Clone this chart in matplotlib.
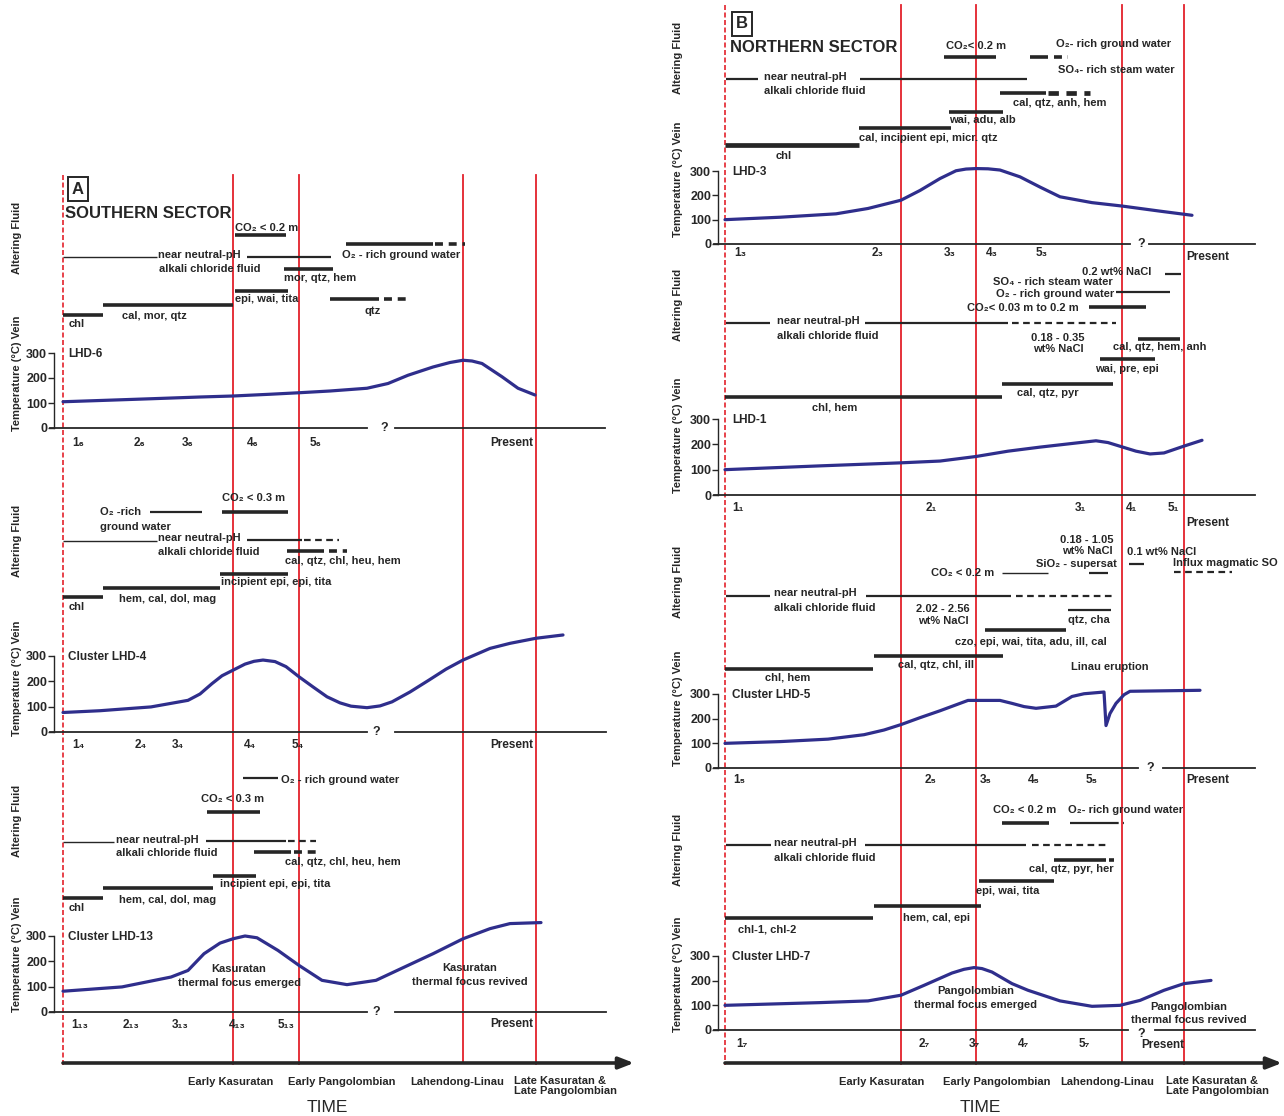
import matplotlib
matplotlib.use('Agg')
import matplotlib.pyplot as plt

plt.rcParams['font.family'] = ['Liberation Sans', 'DejaVu Sans']

W, H = 1284, 1116
RED = '#e3212b'
BLUE = '#2f2e8c'
INK = '#262626'
FS = 8
FW = 'bold'

# ---------------- common time framework (positions along the time axis) ----------
A_start = 63
A_epochs = [233, 299, 463, 536]
B_start = 725
B_epochs = [901, 976, 1122, 1184]
epoch_names = ['Early Kasuratan', 'Early Pangolombian', 'Lahendong-Linau',
               'Late Kasuratan &\nLate Pangolombian']

# ---------------- temperature curves: (time position, temperature degC) ----------
A6_t = [63, 100, 151, 200, 233, 270, 299, 330, 367, 388, 408, 433, 450, 463, 472, 482, 502, 518, 535]
A6_T = [105, 110, 117, 124, 128, 135, 141, 148, 159, 178, 211, 244, 262, 271, 268, 258, 205, 159, 132]

A4_t = [63, 100, 151, 188, 200, 212, 222, 233, 245, 254, 263, 275, 286, 299, 313, 327, 340, 351, 367,
        380, 392, 410, 429, 446, 463, 490, 510, 536, 563]
A4_T = [77, 84, 99, 125, 150, 191, 222, 244, 268, 279, 284, 278, 258, 218, 178, 139, 115, 102, 96,
        103, 119, 158, 205, 248, 284, 330, 350, 370, 383]

A13_t = [63, 122, 171, 188, 204, 220, 233, 245, 257, 278, 299, 322, 347, 376, 408, 433, 463,
         490, 510, 541]
A13_T = [82, 99, 138, 164, 230, 272, 289, 300, 293, 243, 184, 125, 108, 125, 184, 230, 289,
         329, 349, 353]

B3_t = [725, 780, 836, 868, 901, 920, 940, 956, 966, 976, 988, 1000, 1020, 1040, 1060, 1092, 1122, 1160, 1192]
B3_T = [100, 110, 124, 146, 180, 220, 269, 301, 308, 310, 309, 304, 276, 234, 194, 170, 156, 135, 118]

B1_t = [725, 820, 901, 940, 976, 1008, 1040, 1080, 1096, 1108, 1122, 1136, 1150, 1164, 1184, 1202]
B1_T = [100, 115, 127, 134, 152, 173, 189, 207, 214, 207, 190, 173, 162, 166, 193, 216]

B5_t = [725, 780, 828, 864, 884, 901, 920, 940, 968, 1000, 1012, 1024, 1036, 1056, 1072, 1084,
        1104, 1106, 1110, 1116, 1124, 1130, 1200]
B5_T = [100, 107, 117, 135, 154, 176, 204, 232, 274, 274, 262, 249, 242, 251, 290, 301,
        308, 172, 221, 262, 297, 311, 315]

B7_t = [725, 820, 868, 901, 924, 952, 964, 974, 982, 992, 1012, 1028, 1060, 1092, 1120, 1140, 1164, 1184, 1211]
B7_T = [100, 111, 118, 141, 181, 231, 246, 253, 249, 235, 188, 161, 118, 96, 100, 120, 161, 188, 201]

# ---------------- alteration / vein bars: (start, end, row, kind) ----------------
A6_bars = [(235, 286, 235, 'thick'), (346, 433, 244, 'thick'), (435, 465, 244, 'thickdash'),
           (63, 157, 257, 'thin'), (247, 331, 257, 'mid'), (284, 333, 269, 'thick'),
           (235, 288, 291, 'thick'), (330, 379, 299, 'thick'), (384, 410, 299, 'thickdash'),
           (103, 233, 305, 'thick'), (63, 103, 315, 'thick')]
A6_text = [(235, 228, 'CO₂ < 0.2 m', 'left'), (342, 255, 'O₂ - rich ground water', 'left'),
           (158, 255, 'near neutral-pH', 'left'), (159, 269, 'alkali chloride fluid', 'left'),
           (284, 278, 'mor, qtz, hem', 'left'), (235, 299, 'epi, wai, tita', 'left'),
           (373, 311, 'qtz', 'center'), (122, 316, 'cal, mor, qtz', 'left'), (69, 324, 'chl', 'left')]

A4_bars = [(222, 288, 512, 'thick'), (150, 202, 512, 'mid'), (63, 157, 541, 'thin'),
           (247, 302, 540, 'mid'), (304, 339, 540, 'middash'), (287, 324, 551, 'thick'),
           (329, 347, 551, 'thickdash'), (220, 288, 574, 'thick'), (103, 220, 588, 'thick'),
           (63, 103, 597, 'thick')]
A4_text = [(222, 498, 'CO₂ < 0.3 m', 'left'), (100, 512, 'O₂ -rich', 'left'),
           (100, 527, 'ground water', 'left'), (158, 538, 'near neutral-pH', 'left'),
           (158, 552, 'alkali chloride fluid', 'left'), (285, 561, 'cal, qtz, chl, heu, hem', 'left'),
           (221, 582, 'incipient epi, epi, tita', 'left'), (119, 599, 'hem, cal, dol, mag', 'left'),
           (69, 607, 'chl', 'left')]

A13_bars = [(243, 278, 778, 'mid'), (207, 260, 812, 'thick'), (63, 114, 842, 'thin'),
            (206, 286, 841, 'mid'), (288, 316, 841, 'middash'), (254, 291, 852, 'thick'),
            (294, 316, 852, 'thickdash'), (213, 256, 876, 'thick'), (103, 213, 888, 'thick'),
            (63, 103, 898, 'thick')]
A13_text = [(281, 780, 'O₂ - rich ground water', 'left'), (201, 799, 'CO₂ < 0.3 m', 'left'),
            (116, 840, 'near neutral-pH', 'left'), (116, 853, 'alkali chloride fluid', 'left'),
            (285, 862, 'cal, qtz, chl, heu, hem', 'left'), (220, 884, 'incipient epi, epi, tita', 'left'),
            (119, 900, 'hem, cal, dol, mag', 'left'), (69, 908, 'chl', 'left'),
            (239, 969, 'Kasuratan', 'center'), (239, 983, 'thermal focus emerged', 'center'),
            (470, 968, 'Kasuratan', 'center'), (470, 982, 'thermal focus revived', 'center')]

B3_bars = [(944, 996, 57, 'thick'), (1030, 1048, 57, 'thick'), (1054, 1068, 57, 'thickdash'),
           (726, 758, 79, 'mid'), (860, 1027, 79, 'mid'), (1000, 1046, 93, 'thick'),
           (1048, 1090, 93, 'heavydash'), (949, 1003, 112, 'thick'), (859, 951, 128, 'thick'),
           (725, 859, 145, 'heavy')]
B3_text = [(946, 46, 'CO₂< 0.2 m', 'left'), (1056, 44, 'O₂- rich ground water', 'left'),
           (1058, 70, 'SO₄- rich steam water', 'left'), (764, 77, 'near neutral-pH', 'left'),
           (764, 91, 'alkali chloride fluid', 'left'), (1013, 103, 'cal, qtz, anh, hem', 'left'),
           (949, 120, 'wai, adu, alb', 'left'), (859, 138, 'cal, incipient epi, micr. qtz', 'left'),
           (784, 156, 'chl', 'center')]

B1_bars = [(1165, 1181, 274, 'mid'), (1116, 1170, 292, 'mid'), (1089, 1146, 307, 'thick'),
           (726, 770, 323, 'mid'), (865, 1008, 323, 'mid'), (1012, 1116, 323, 'middash'),
           (1138, 1180, 339, 'thick'), (1100, 1155, 359, 'thick'), (1002, 1113, 384, 'thick'),
           (725, 1002, 397, 'thick')]
B1_text = [(1082, 272, '0.2 wt% NaCl', 'left'), (993, 282, 'SO₄ - rich steam water', 'left'),
           (996, 294, 'O₂ - rich ground water', 'left'), (967, 308, 'CO₂< 0.03 m to 0.2 m', 'left'),
           (777, 321, 'near neutral-pH', 'left'), (777, 336, 'alkali chloride fluid', 'left'),
           (1058, 338, '0.18 - 0.35', 'center'), (1058, 349, 'wt% NaCl', 'center'),
           (1113, 347, 'cal, qtz, hem, anh', 'left'), (1095, 369, 'wai, pre, epi', 'left'),
           (1017, 393, 'cal, qtz, pyr', 'left'), (812, 407, 'chl, hem', 'left')]

B5_bars = [(1129, 1144, 564, 'mid'), (1089, 1108, 573, 'mid'), (1002, 1048, 573, 'thin'),
           (1174, 1232, 572, 'middash'), (726, 770, 596, 'mid'), (866, 1011, 596, 'mid'),
           (1016, 1116, 596, 'middash'), (1068, 1111, 610, 'mid'), (985, 1066, 630, 'thick'),
           (874, 1003, 656, 'thick'), (725, 873, 669, 'thick')]
B5_text = [(1087, 540, '0.18 - 1.05', 'center'), (1087, 551, 'wt% NaCl', 'center'),
           (1162, 552, '0.1 wt% NaCl', 'center'), (1036, 564, 'SiO₂ - supersat', 'left'),
           (931, 573, 'CO₂ < 0.2 m', 'left'), (1173, 563, 'Influx magmatic SO', 'left'),
           (774, 593, 'near neutral-pH', 'left'), (774, 608, 'alkali chloride fluid', 'left'),
           (943, 609, '2.02 - 2.56', 'center'), (943, 621, 'wt% NaCl', 'center'),
           (1068, 620, 'qtz, cha', 'left'), (955, 642, 'czo, epi, wai, tita, adu, ill, cal', 'left'),
           (898, 665, 'cal, qtz, chl, ill', 'left'), (1071, 667, 'Linau eruption', 'left'),
           (765, 678, 'chl, hem', 'left')]

B7_bars = [(1002, 1049, 823, 'thick'), (1070, 1112, 823, 'mid'), (1112, 1124, 823, 'middash'),
           (726, 771, 845, 'mid'), (865, 1026, 845, 'mid'), (1032, 1106, 845, 'middash'),
           (1054, 1106, 860, 'thick'), (1109, 1114, 860, 'thick'), (979, 1054, 881, 'thick'),
           (874, 981, 906, 'thick'), (725, 873, 918, 'thick')]
B7_text = [(993, 810, 'CO₂ < 0.2 m', 'left'), (1068, 810, 'O₂- rich ground water', 'left'),
           (774, 843, 'near neutral-pH', 'left'), (774, 858, 'alkali chloride fluid', 'left'),
           (1029, 869, 'cal, qtz, pyr, her', 'left'), (976, 891, 'epi, wai, tita', 'left'),
           (903, 918, 'hem, cal, epi', 'left'), (738, 930, 'chl-1, chl-2', 'left'),
           (976, 991, 'Pangolombian', 'center'), (975, 1005, 'thermal focus emerged', 'center'),
           (1189, 1007, 'Pangolombian', 'center'), (1189, 1020, 'thermal focus revived', 'center')]

# ---------------- stage labels ----------------
A6_stages = ['1₆', '2₆', '3₆', '4₆', '5₆'];      A6_stage_t = [78, 139, 188, 253, 316]
A4_stages = ['1₄', '2₄', '3₄', '4₄', '5₄'];      A4_stage_t = [78, 141, 178, 250, 298]
A13_stages = ['1₁₃', '2₁₃', '3₁₃', '4₁₃', '5₁₃']; A13_stage_t = [80, 131, 180, 237, 286]
B3_stages = ['1₃', '2₃', '3₃', '4₃', '5₃'];      B3_stage_t = [740, 878, 950, 992, 1042]
B1_stages = ['1₁', '2₁', '3₁', '4₁', '5₁'];      B1_stage_t = [738, 931, 1080, 1132, 1173]
B5_stages = ['1₅', '2₅', '3₅', '4₅', '5₅'];      B5_stage_t = [739, 931, 986, 1034, 1092]
B7_stages = ['1₇', '2₇', '3₇', '4₇', '5₇'];      B7_stage_t = [742, 924, 974, 1024, 1084]

# ---------------- figure ----------------
fig = plt.figure(figsize=(W / 100, H / 100), dpi=100)
ax = fig.add_axes([0, 0, 1, 1])
ax.set_xlim(0, W)
ax.set_ylim(H, 0)
ax.axis('off')

STYLE = {
    'thin': dict(lw=1.0, ls='-'),
    'mid': dict(lw=1.6, ls='-'),
    'middash': dict(lw=1.6, ls=(0, (3, 2))),
    'thick': dict(lw=2.6, ls='-'),
    'thickdash': dict(lw=2.6, ls=(0, (2.2, 1.6))),
    'heavy': dict(lw=3.4, ls='-'),
    'heavydash': dict(lw=3.4, ls=(0, (2.2, 1.6))),
}


def txt(x, y, s, ha='left', **kw):
    kw.setdefault('fontsize', FS)
    kw.setdefault('color', INK)
    kw.setdefault('fontweight', FW)
    ax.text(x, y, s, ha=ha, va='center', **kw)


def draw_bars(bars):
    for t0, t1, row, kind in bars:
        st = STYLE[kind]
        ax.plot([t0, t1], [row, row], color=INK, lw=st['lw'], ls=st['ls'],
                solid_capstyle='butt', dash_capstyle='butt')


def draw_texts(items):
    for x, y, s, ha in items:
        txt(x, y, s, ha)


def temp_panel(spine_x, x_right, y0, y300, t, T, name, stages, stage_t, stage_y,
               base_segments, qmark, present):
    a = fig.add_axes([spine_x / W, 1 - y0 / H, (x_right - spine_x) / W, (y0 - y300) / H])
    a.set_xlim(spine_x, x_right)
    a.set_ylim(0, 300)
    a.patch.set_visible(False)
    for s in ['top', 'right', 'bottom']:
        a.spines[s].set_visible(False)
    a.spines['left'].set_linewidth(1.0)
    a.spines['left'].set_color(INK)
    a.set_xticks([])
    a.set_yticks([0, 100, 200, 300])
    a.tick_params(axis='y', length=4, width=1, pad=1, labelsize=9, colors=INK)
    for lab in a.get_yticklabels():
        lab.set_fontweight('bold')
    a.plot(t, T, color=BLUE, lw=2.3, solid_joinstyle='round', solid_capstyle='round',
           clip_on=False)
    # baseline (time line)
    for x0, x1 in base_segments:
        ax.plot([x0, x1], [y0, y0], color=INK, lw=1.3)
    if qmark is not None:
        txt(qmark[0], y0 + qmark[1], '?', 'center', fontsize=9)
    for s, x in zip(stages, stage_t):
        txt(x, stage_y, s, 'center', fontsize=8.5)
    txt(present[0], present[1], 'Present', 'center', fontsize=8.5)
    txt(spine_x + 14, y300 + 1, name, 'left', fontsize=8.5)


# red epoch lines
ax.plot([A_start, A_start], [175, 1065], color=RED, lw=1.2, ls=(0, (3, 1.5)))
for x in A_epochs:
    ax.plot([x, x], [175, 1062 if x == A_epochs[2] else 1064], color=RED, lw=1.3)
ax.plot([B_start, B_start], [5, 1065], color=RED, lw=1.2, ls=(0, (3, 1.5)))
for x in B_epochs:
    ax.plot([x, x], [5, 1062 if x == B_epochs[2] else 1064], color=RED, lw=1.3)

# panel letters and titles
ax.text(78, 189, 'A', ha='center', va='center', fontsize=12, fontweight='bold', color=INK,
        bbox=dict(boxstyle='square,pad=0.25', fc='white', ec=INK, lw=1.4))
ax.text(742, 24, 'B', ha='center', va='center', fontsize=12, fontweight='bold', color=INK,
        bbox=dict(boxstyle='square,pad=0.25', fc='white', ec=INK, lw=1.4))
txt(65, 213, 'SOUTHERN SECTOR', fontsize=12)
txt(730, 48, 'NORTHERN SECTOR', fontsize=12)

# side labels
for y in [238, 541, 821]:
    ax.text(17, y, 'Altering Fluid', rotation=90, ha='center', va='center', fontsize=FS,
            fontweight=FW, color=INK)
for y in [373, 678, 954]:
    ax.text(17, y, 'Temperature (°C) Vein', rotation=90, ha='center', va='center', fontsize=FS,
            fontweight=FW, color=INK)
for y in [58, 305, 582, 850]:
    ax.text(678, y, 'Altering Fluid', rotation=90, ha='center', va='center', fontsize=FS,
            fontweight=FW, color=INK)
for y in [179, 435, 708, 974]:
    ax.text(678, y, 'Temperature (°C) Vein', rotation=90, ha='center', va='center', fontsize=FS,
            fontweight=FW, color=INK)

# bars & labels
for bars, texts in [(A6_bars, A6_text), (A4_bars, A4_text), (A13_bars, A13_text),
                    (B3_bars, B3_text), (B1_bars, B1_text), (B5_bars, B5_text), (B7_bars, B7_text)]:
    draw_bars(bars)
    draw_texts(texts)

# temperature panels
temp_panel(54, 606, 428, 353, A6_t, A6_T, 'LHD-6', A6_stages, A6_stage_t, 443,
           [(50, 367), (395, 605)], (384, 0), (512, 443))
temp_panel(54, 606, 732, 656, A4_t, A4_T, 'Cluster LHD-4', A4_stages, A4_stage_t, 745,
           [(50, 367), (395, 606)], (376, 0), (512, 745))
temp_panel(54, 606, 1012, 936, A13_t, A13_T, 'Cluster LHD-13', A13_stages, A13_stage_t, 1025,
           [(50, 367), (395, 606)], (376, 0), (512, 1024))
temp_panel(718, 1256, 244, 171, B3_t, B3_T, 'LHD-3', B3_stages, B3_stage_t, 253,
           [(714, 1130), (1149, 1255)], (1141, 0), (1208, 257))
temp_panel(718, 1256, 495, 419, B1_t, B1_T, 'LHD-1', B1_stages, B1_stage_t, 508,
           [(714, 1255)], None, (1208, 523))
temp_panel(718, 1256, 768, 694, B5_t, B5_T, 'Cluster LHD-5', B5_stages, B5_stage_t, 780,
           [(714, 1138), (1163, 1255)], (1150, 0), (1208, 780))
temp_panel(718, 1256, 1030, 956, B7_t, B7_T, 'Cluster LHD-7', B7_stages, B7_stage_t, 1044,
           [(714, 1128), (1155, 1255)], (1141, 4), (1163, 1045))

# time arrows
for x0, x1 in [(63, 634), (725, 1282)]:
    ax.annotate('', xy=(x1, 1063), xytext=(x0, 1063),
                arrowprops=dict(arrowstyle='-|>,head_length=0.9,head_width=0.35', lw=2.6,
                                color=INK, shrinkA=0, shrinkB=0))

# epoch names
A_label_x = [231, 342, 457, 514]
B_label_x = [882, 997, 1107, 1166]
for xs in [A_label_x, B_label_x]:
    for i, (x, s) in enumerate(zip(xs, epoch_names)):
        if i < 3:
            txt(x, 1082, s, 'center')
        else:
            ax.text(x, 1076, s, ha='left', va='top', fontsize=FS, fontweight=FW, color=INK,
                    linespacing=1.05)
txt(327, 1107, 'TIME', 'center', fontsize=12.5, fontweight='normal')
txt(980, 1107, 'TIME', 'center', fontsize=12.5, fontweight='normal')

fig.savefig('out.png', dpi=100)
